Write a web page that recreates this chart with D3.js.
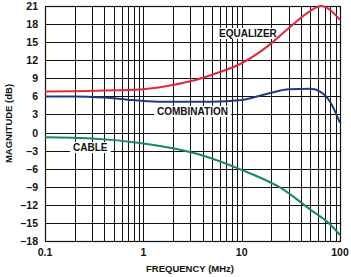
<!DOCTYPE html>
<html>
<head>
<meta charset="utf-8">
<script src="https://cdn.jsdelivr.net/npm/d3@7"></script>
<style>
  body { margin: 0; background: #fff; }
  text { font-family: "Liberation Sans", Arial, sans-serif; font-weight: bold; fill: #111; }
</style>
</head>
<body>
<svg id="chart" width="351" height="277"></svg>
<script>
// Curve data (MHz, dB)
const eqFreq = [0.1, 0.2, 0.5, 1, 2, 3, 5, 10, 20, 30, 50, 64, 80, 100];
const eqDb   = [6.8, 6.85, 7.0, 7.2, 7.9, 8.5, 9.6, 11.5, 14.8, 17.3, 20.2, 21, 20.3, 18.7];
const combFreq = [0.1, 0.2, 0.4, 0.7, 1, 2, 5, 10, 20, 30, 50, 64, 80, 100];
const combDb   = [6.0, 6.0, 5.8, 5.45, 5.25, 5.1, 5.1, 5.4, 6.6, 7.2, 7.25, 6.7, 5.0, 1.6];
const cableFreq = [0.1, 0.3, 1, 2, 4, 10, 25, 50, 80, 100];
const cableDb   = [-0.8, -1.0, -1.8, -2.6, -3.8, -6.2, -9.2, -12.8, -15.3, -17];

const yTicks = [21, 18, 15, 12, 9, 6, 3, 0, -3, -6, -9, -12, -15, -18];
const xTickLabels = [0.1, 1, 10, 100];

const svg = d3.select('#chart');
const plot = { left: 45, right: 340, top: 6, bottom: 241 };

const x = d3.scaleLog().domain([0.1, 100]).range([plot.left, plot.right]);
const y = d3.scaleLinear().domain([-18, 21]).range([plot.bottom, plot.top]);

// Grid: vertical lines at every 1..9 per decade
const gridX = [];
for (let dec = 0.1; dec < 100; dec *= 10) {
    for (let k = 2; k <= 9; k++) gridX.push(dec * k);
}
gridX.push(1, 10);

const grid = svg.append('g').attr('class', 'grid');
grid.selectAll('line.v').data(gridX).enter().append('line')
    .attr('x1', d => Math.round(x(d)) + 0.5).attr('x2', d => Math.round(x(d)) + 0.5)
    .attr('y1', plot.top).attr('y2', plot.bottom)
    .attr('stroke', '#111').attr('stroke-width', 1);
grid.selectAll('line.h').data(yTicks).enter().append('line')
    .attr('y1', d => Math.round(y(d)) + 0.5).attr('y2', d => Math.round(y(d)) + 0.5)
    .attr('x1', plot.left).attr('x2', plot.right)
    .attr('stroke', '#111').attr('stroke-width', 1);

svg.append('rect')
    .attr('x', plot.left + 0.5).attr('y', plot.top + 0.5)
    .attr('width', plot.right - plot.left).attr('height', plot.bottom - plot.top)
    .attr('fill', 'none').attr('stroke', '#111').attr('stroke-width', 1.2);

// Axes labels
svg.append('g').selectAll('text').data(yTicks).enter().append('text')
    .attr('x', 38).attr('y', d => y(d) + 4)
    .attr('text-anchor', 'end').attr('font-size', 10.5)
    .text(d => d < 0 ? '\u2013' + Math.abs(d) : d);

svg.append('g').selectAll('text').data(xTickLabels).enter().append('text')
    .attr('x', d => x(d)).attr('y', 256)
    .attr('text-anchor', 'middle').attr('font-size', 10.5)
    .text(d => d);

svg.append('text')
    .attr('x', 190).attr('y', 272).attr('text-anchor', 'middle').attr('font-size', 9.5)
    .text('FREQUENCY (MHz)');
svg.append('text')
    .attr('transform', `translate(12, ${(plot.top + plot.bottom) / 2}) rotate(-90)`)
    .attr('text-anchor', 'middle').attr('font-size', 9.5)
    .text('MAGNITUDE (dB)');

// Curve labels with white boxes
const labels = [
    { text: 'EQUALIZER', x: 219, y: 37 },
    { text: 'COMBINATION', x: 157, y: 115 },
    { text: 'CABLE', x: 73, y: 151 }
];
const labelG = svg.append('g').attr('class', 'labels');
labels.forEach(l => {
    const g = labelG.append('g');
    const t = g.append('text').attr('x', l.x).attr('y', l.y).attr('font-size', 10).text(l.text);
    const bb = t.node().getBBox();
    g.insert('rect', 'text')
        .attr('x', bb.x - 3).attr('y', bb.y)
        .attr('width', bb.width + 6).attr('height', bb.height)
        .attr('fill', '#fff');
});

// Series
const line = d3.line().x(d => x(d[0])).y(d => y(d[1])).curve(d3.curveMonotoneX);
const series = [
    { f: cableFreq, v: cableDb, color: '#17895a' },
    { f: combFreq, v: combDb, color: '#1f3c7e' },
    { f: eqFreq, v: eqDb, color: '#e0283e' }
];
series.forEach(s => {
    svg.append('path')
        .datum(d3.zip(s.f, s.v))
        .attr('d', line)
        .attr('fill', 'none')
        .attr('stroke', s.color)
        .attr('stroke-width', 2);
});
</script>
</body>
</html>
